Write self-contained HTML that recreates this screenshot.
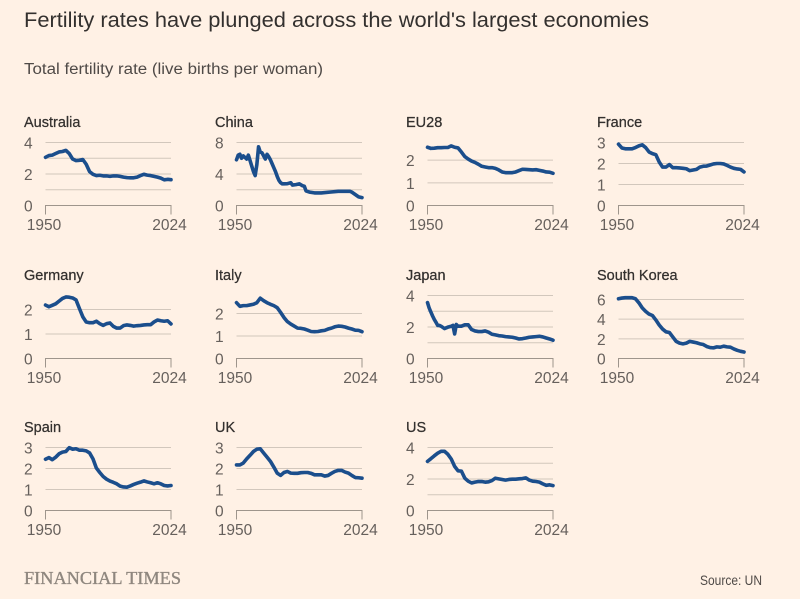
<!DOCTYPE html>
<html lang="en">
<head>
<meta charset="utf-8">
<title>Fertility rates have plunged across the world's largest economies</title>
<style>
  html, body { margin: 0; padding: 0; background: #fff1e5; }
  body { width: 800px; height: 599px; overflow: hidden; }
  svg { display: block; font-family: "Liberation Sans", sans-serif; }
</style>
</head>
<body>
<svg id="chart" xmlns="http://www.w3.org/2000/svg" width="800" height="599" viewBox="0 0 800 599">
  <rect x="0" y="0" width="800" height="599" fill="#fff1e5"/>
  <text x="24" y="27" font-size="21.5" fill="#33302e" textLength="625" lengthAdjust="spacingAndGlyphs">Fertility rates have plunged across the world's largest economies</text>
  <text x="24" y="74" font-size="15.5" fill="#4f4a47" textLength="299" lengthAdjust="spacingAndGlyphs">Total fertility rate (live births per woman)</text>
  <text x="24" y="584" font-family="'Liberation Serif', serif" font-size="17.5" fill="#8f877f" stroke="#8f877f" stroke-width="0.35" textLength="157" lengthAdjust="spacingAndGlyphs">FINANCIAL TIMES</text>
  <text x="700" y="585" font-size="13.5" fill="#4f4a47" textLength="62" lengthAdjust="spacingAndGlyphs">Source: UN</text>
  <g id="panels"></g>
</svg>
<script>
// Shared x-axis categories for most series (every second year)
const biennialYears = [1950,1952,1954,1956,1958,1960,1962,1964,1966,1968,1970,1972,1974,1976,1978,1980,1982,1984,1986,1988,1990,1992,1994,1996,1998,2000,2002,2004,2006,2008,2010,2012,2014,2016,2018,2020,2022,2024];
const xTickLabels = [1950, 2024];

const australiaValues = [3.06,3.17,3.2,3.3,3.4,3.43,3.5,3.3,2.95,2.85,2.87,2.92,2.62,2.15,1.98,1.9,1.92,1.88,1.88,1.85,1.88,1.88,1.85,1.8,1.77,1.76,1.76,1.8,1.9,1.98,1.93,1.9,1.85,1.8,1.74,1.63,1.66,1.64];
const chinaYears = [1950,1951,1952,1953,1954,1955,1956,1957,1958,1959,1960,1961,1962,1963,1964,1965,1966,1967,1968,1969,1970,1971,1972,1973,1974,1975,1976,1977,1978,1980,1982,1983,1985,1987,1989,1990,1991,1993,1996,2000,2005,2010,2015,2017,2018,2020,2022,2024];
const chinaValues = [5.8,6.4,6.5,6.0,6.3,6.1,5.9,6.4,5.7,5.0,4.3,3.8,5.2,7.45,6.8,6.7,6.3,5.9,6.5,6.2,5.8,5.3,4.8,4.3,3.7,3.2,2.9,2.75,2.75,2.77,2.9,2.6,2.65,2.75,2.5,2.45,1.85,1.7,1.6,1.6,1.7,1.8,1.8,1.8,1.7,1.4,1.1,1.0];
const eu28Values = [2.57,2.52,2.53,2.55,2.55,2.56,2.56,2.63,2.57,2.54,2.36,2.16,2.05,1.96,1.9,1.82,1.73,1.7,1.67,1.67,1.64,1.57,1.48,1.45,1.45,1.45,1.48,1.54,1.6,1.59,1.58,1.57,1.58,1.55,1.52,1.48,1.47,1.42];
const franceValues = [2.92,2.74,2.7,2.7,2.7,2.76,2.84,2.89,2.76,2.55,2.47,2.42,2.07,1.83,1.83,1.95,1.8,1.8,1.79,1.77,1.75,1.66,1.69,1.72,1.83,1.87,1.88,1.93,1.98,2.0,2.0,1.98,1.91,1.83,1.77,1.74,1.72,1.6];
const germanyValues = [2.18,2.11,2.17,2.23,2.34,2.45,2.51,2.5,2.47,2.39,2.04,1.7,1.49,1.46,1.46,1.52,1.42,1.35,1.42,1.45,1.31,1.24,1.24,1.34,1.37,1.35,1.32,1.34,1.35,1.37,1.38,1.38,1.49,1.57,1.54,1.52,1.54,1.41];
const italyValues = [2.48,2.32,2.35,2.35,2.38,2.41,2.48,2.68,2.57,2.48,2.41,2.35,2.26,2.05,1.82,1.64,1.53,1.44,1.35,1.34,1.31,1.26,1.2,1.19,1.2,1.23,1.25,1.31,1.35,1.41,1.44,1.43,1.4,1.35,1.31,1.26,1.25,1.19];
const japanYears = [1950,1951,1952,1953,1954,1955,1956,1957,1958,1960,1962,1964,1965,1966,1967,1968,1970,1972,1974,1976,1978,1980,1982,1984,1986,1988,1990,1992,1994,1996,1998,2000,2002,2004,2006,2008,2010,2012,2014,2016,2018,2020,2022,2024];
const japanValues = [3.55,3.2,2.95,2.7,2.48,2.3,2.1,2.1,2.05,1.9,1.99,2.05,2.1,1.56,2.16,2.05,2.05,2.14,2.14,1.84,1.75,1.71,1.71,1.75,1.67,1.54,1.5,1.45,1.43,1.39,1.37,1.35,1.3,1.24,1.26,1.3,1.35,1.37,1.39,1.41,1.37,1.3,1.24,1.16];
const southKoreaValues = [6.07,6.14,6.18,6.18,6.18,6.07,5.66,5.14,4.79,4.51,4.37,3.92,3.4,2.99,2.71,2.64,2.19,1.74,1.56,1.49,1.56,1.74,1.67,1.6,1.49,1.42,1.22,1.11,1.08,1.18,1.15,1.25,1.18,1.15,0.97,0.83,0.73,0.66];
const spainValues = [2.44,2.52,2.42,2.54,2.7,2.78,2.81,2.99,2.92,2.94,2.87,2.87,2.84,2.74,2.46,2.02,1.81,1.62,1.49,1.4,1.34,1.27,1.16,1.12,1.11,1.17,1.24,1.3,1.35,1.41,1.36,1.32,1.27,1.32,1.27,1.19,1.17,1.19];
const ukValues = [2.17,2.17,2.26,2.46,2.63,2.81,2.92,2.94,2.74,2.54,2.34,2.07,1.78,1.67,1.81,1.86,1.78,1.77,1.77,1.8,1.81,1.81,1.77,1.7,1.7,1.7,1.64,1.67,1.77,1.86,1.91,1.91,1.83,1.78,1.67,1.57,1.56,1.54];
const usValues = [3.12,3.29,3.47,3.64,3.76,3.76,3.57,3.27,2.8,2.52,2.5,2.05,1.86,1.75,1.8,1.84,1.84,1.8,1.82,1.9,2.05,2.01,1.97,1.93,1.97,1.99,1.99,2.01,2.03,2.07,1.93,1.86,1.84,1.8,1.69,1.6,1.63,1.58];

// Y-axis tops and tick labels per country
const yDomainMax = [4, 8, 2.78, 3, 2.57, 2.8, 4, 6.4, 3, 3, 4];
const australiaGrid = [0,1,2,3,4];
const australiaTicks = [0,2,4];
const chinaGrid = [0,2,4,6,8];
const chinaTicks = [0,4,8];
const eu28Ticks = [0,1,2];
const franceTicks = [0,1,2,3];
const germanyTicks = [0,1,2];
const italyTicks = [0,1,2];
const koreaTicks = [0,2,4,6];
const spainTicks = [0,1,2,3];
const ukTicks = [0,1,2,3];

const countries = ["Australia","China","EU28","France","Germany","Italy","Japan","South Korea","Spain","UK","US"];
const seriesYears = [biennialYears,chinaYears,biennialYears,biennialYears,biennialYears,biennialYears,japanYears,biennialYears,biennialYears,biennialYears,biennialYears];
const seriesValues = [australiaValues,chinaValues,eu28Values,franceValues,germanyValues,italyValues,japanValues,southKoreaValues,spainValues,ukValues,usValues];
const gridValues = [australiaGrid,chinaGrid,eu28Ticks,franceTicks,germanyTicks,italyTicks,australiaGrid,koreaTicks,spainTicks,ukTicks,australiaGrid];
const tickValues = [australiaTicks,chinaTicks,eu28Ticks,franceTicks,germanyTicks,italyTicks,australiaTicks,koreaTicks,spainTicks,ukTicks,australiaTicks];

const NS = 'http://www.w3.org/2000/svg';
const root = document.getElementById('panels');
const colLefts = [45.5, 236.5, 427.5, 618.5];
const colLabelLefts = [24, 215, 406, 597];
const rowBottoms = [205.5, 358.5, 510.5];
const plotWidth = 125.5;
const plotHeight = 63;

function svgEl(tag, attrs, parent, text) {
  const el = document.createElementNS(NS, tag);
  for (const k in attrs) el.setAttribute(k, attrs[k]);
  if (text !== undefined) el.textContent = text;
  parent.appendChild(el);
  return el;
}
function slug(s) { return s.toLowerCase().replace(/[^a-z0-9]+/g, '-'); }

countries.forEach(function (name, i) {
  const col = i % 4;
  const row = Math.floor(i / 4);
  const left = colLefts[col];
  const labelLeft = colLabelLefts[col];
  const bottom = rowBottoms[row];
  const xFirst = biennialYears[0];
  const xLast = biennialYears[biennialYears.length - 1];
  const xScale = function (yr) { return left + (yr - xFirst) / (xLast - xFirst) * plotWidth; };
  const yScale = function (v) { return bottom - v / yDomainMax[i] * plotHeight; };
  const id = slug(name);

  const g = svgEl('g', {}, root);
  
  

  const title = svgEl('text', { x: labelLeft, y: bottom - 78.7, 'font-size': 14.5, fill: '#33302e', stroke: '#33302e', 'stroke-width': 0.25 }, g, name);
  
  

  gridValues[i].forEach(function (v) {
    if (v === 0) return;
    const line = svgEl('line', { x1: left, x2: left + plotWidth, y1: yScale(v), y2: yScale(v), stroke: '#d2c7bc', 'stroke-width': 1 }, g);
    
    
  });

  tickValues[i].forEach(function (v) {
    const label = svgEl('text', { x: labelLeft, y: yScale(v) + 6, 'font-size': 15.5, fill: '#66605c' }, g, String(v));
    
    
  });

  const axis = svgEl('path', { d: 'M' + left + ' ' + (bottom + 9) + 'V' + bottom + 'H' + (left + plotWidth) + 'V' + (bottom + 9), fill: 'none', stroke: '#9e958c', 'stroke-width': 1 }, g);
  
  

  xTickLabels.forEach(function (yr) {
    const label = svgEl('text', { x: xScale(yr) - 1.5, y: bottom + 24.5, 'font-size': 15.5, fill: '#66605c', 'text-anchor': 'middle' }, g, String(yr));
    
    
  });

  const years = seriesYears[i];
  const values = seriesValues[i];
  const d = values.map(function (v, j) {
    return (j ? 'L' : 'M') + xScale(years[j]).toFixed(2) + ' ' + yScale(v).toFixed(2);
  }).join('');
  const path = svgEl('path', { d: d, fill: 'none', stroke: '#1b4e8c', 'stroke-width': 3.6, 'stroke-linejoin': 'round', 'stroke-linecap': 'round' }, g);
  
  
});
</script>
</body>
</html>
